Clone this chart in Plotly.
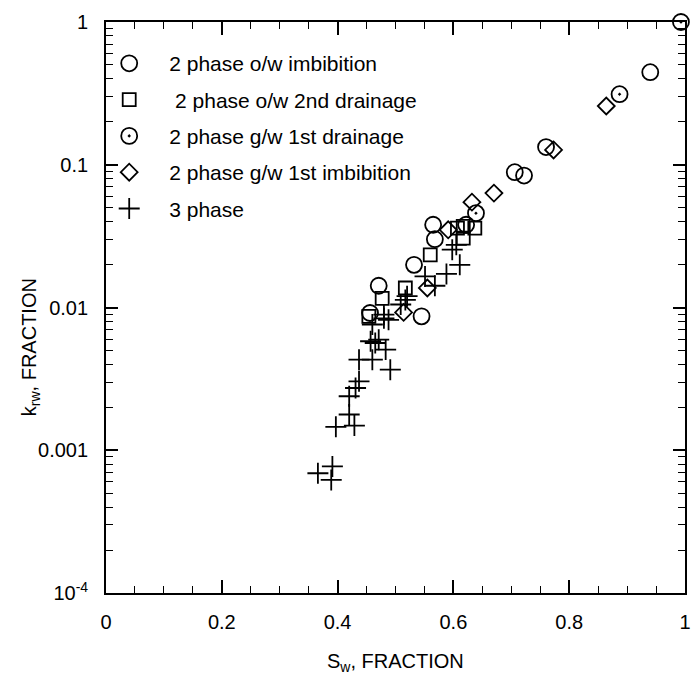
import plotly.graph_objects as go

# 2 phase o/w imbibition (open circles)
ow_imb_x = [0.940, 0.760, 0.706, 0.722, 0.565, 0.568, 0.532, 0.471, 0.545, 0.456, 0.622]
ow_imb_y = [0.445, 0.133, 0.0887, 0.084, 0.038, 0.0301, 0.0199, 0.0142, 0.00867, 0.00915, 0.038]

# 2 phase o/w 2nd drainage (open squares)
ow_dr_x = [0.617, 0.637, 0.617, 0.560, 0.477, 0.517, 0.454, 0.607]
ow_dr_y = [0.037, 0.036, 0.0306, 0.0234, 0.0116, 0.0137, 0.00866, 0.036]

# 2 phase g/w 1st drainage (circle with dot)
gw_dr_x = [0.993, 0.887, 0.639]
gw_dr_y = [1.0, 0.312, 0.0458]

# 2 phase g/w 1st imbibition (open diamonds)
gw_imb_x = [0.864, 0.773, 0.670, 0.632, 0.591, 0.514, 0.555]
gw_imb_y = [0.258, 0.127, 0.0633, 0.0547, 0.035, 0.00924, 0.0137]

# 3 phase (plus)
ph3_x = [0.366, 0.391, 0.389, 0.397, 0.429, 0.420, 0.420, 0.431, 0.437, 0.437,
         0.460, 0.491, 0.483, 0.457, 0.465, 0.471, 0.460, 0.480, 0.488, 0.480,
         0.517, 0.520, 0.568, 0.551, 0.588, 0.611, 0.598, 0.605, 0.509]
ph3_y = [0.00069, 0.00077, 0.00062, 0.00146, 0.00149, 0.00178, 0.00239, 0.00273, 0.00304, 0.00431,
         0.00431, 0.00367, 0.00507, 0.0058, 0.00564, 0.00595, 0.0076, 0.0084, 0.0082, 0.0089,
         0.0113, 0.0120, 0.0142, 0.0165, 0.0172, 0.0199, 0.0254, 0.0275, 0.0105]

x_tickvals = [0, 0.2, 0.4, 0.6, 0.8, 1.0]
x_ticktext = ["0", "0.2", "0.4", "0.6", "0.8", "1"]
y_tickvals = [1e-4, 1e-3, 1e-2, 1e-1, 1]
y_ticktext = ["10<sup>-4</sup>", "0.001", "0.01", "0.1", "1"]

FONT = "Liberation Sans, Arial, Helvetica, sans-serif"
FS = 20
LW = 1.8

fig = go.Figure()
fig.add_trace(go.Scatter(x=ow_imb_x, y=ow_imb_y, mode="markers", name="2 phase o/w imbibition",
                         legendgroup="a",
                         marker=dict(symbol="circle-open", size=16, color="black", line=dict(width=LW))))
fig.add_trace(go.Scatter(x=ow_dr_x, y=ow_dr_y, mode="markers", name=" 2 phase o/w 2nd drainage",
                         legendgroup="b",
                         marker=dict(symbol="square-open", size=13, color="black", line=dict(width=LW))))
fig.add_trace(go.Scatter(x=gw_dr_x, y=gw_dr_y, mode="markers", name="2 phase g/w 1st drainage",
                         legendgroup="c", cliponaxis=False,
                         marker=dict(symbol="circle-open-dot", size=16, color="black", line=dict(width=LW))))
fig.add_trace(go.Scatter(x=gw_imb_x, y=gw_imb_y, mode="markers", name="2 phase g/w 1st imbibition",
                         legendgroup="d",
                         marker=dict(symbol="diamond-open", size=13, color="black", line=dict(width=LW))))
fig.add_trace(go.Scatter(x=ph3_x, y=ph3_y, mode="markers", name="3 phase",
                         legendgroup="e",
                         marker=dict(symbol="cross-thin-open", size=15, color="black", line=dict(width=LW))))

minor_y = [m * 10 ** e for e in range(-4, 0) for m in range(2, 10)]
minor_x = [i * 0.05 for i in range(21) if i % 4 != 0]

fig.update_layout(
    width=694, height=694,
    margin=dict(l=106, r=3, t=22, b=101),
    paper_bgcolor="white", plot_bgcolor="white",
    font=dict(family=FONT, size=FS, color="black"),
    showlegend=True,
    legend=dict(x=-0.029, y=0.963, xanchor="left", yanchor="top", bgcolor="rgba(0,0,0,0)",
                font=dict(size=21), tracegroupgap=6, itemwidth=70),
    xaxis=dict(range=[0, 1], tickmode="array", tickvals=x_tickvals, ticktext=x_ticktext,
               ticks="inside", ticklen=13, tickwidth=1.5, tickcolor="black",
               showline=True, linewidth=1.8, linecolor="black", mirror="ticks",
               showgrid=False, zeroline=False, tickfont=dict(size=FS), ticklabelstandoff=10,
               ticklabeloverflow="allow",
               minor=dict(tickmode="array", tickvals=minor_x, ticks="inside", ticklen=7,
                          tickwidth=1.2, tickcolor="black", showgrid=False)),
    yaxis=dict(type="log", range=[-4, 0], tickmode="array", tickvals=y_tickvals, ticktext=y_ticktext,
               ticks="inside", ticklen=12, tickwidth=1.5, tickcolor="black",
               showline=True, linewidth=1.8, linecolor="black", mirror="ticks",
               showgrid=False, zeroline=False, tickfont=dict(size=FS), ticklabelstandoff=12,
               ticklabeloverflow="allow",
               minor=dict(tickmode="array", tickvals=minor_y, ticks="inside", ticklen=7,
                          tickwidth=1.2, tickcolor="black", showgrid=False)),
    annotations=[
        dict(text="S<sub>w</sub>, FRACTION", xref="paper", yref="paper", x=0.5, y=-0.121,
             xanchor="center", yanchor="middle", showarrow=False, font=dict(size=FS)),
        dict(text="k<sub>rw</sub>, FRACTION", xref="paper", yref="paper", x=-0.13, y=0.43,
             xanchor="center", yanchor="middle", textangle=-90, showarrow=False, font=dict(size=FS)),
    ],
)

fig.write_html("out.html")
